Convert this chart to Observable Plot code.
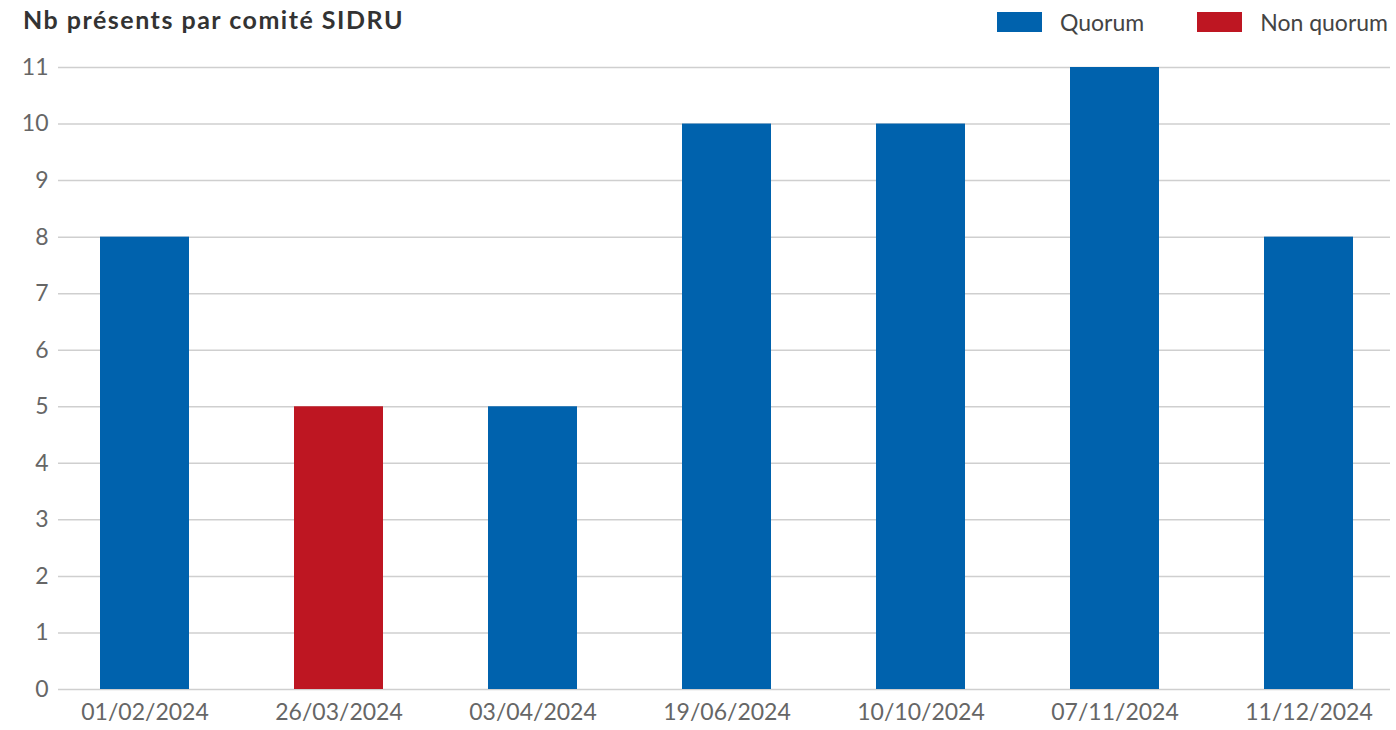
<!DOCTYPE html>
<html>
<head>
<meta charset="utf-8">
<script src="https://cdn.jsdelivr.net/npm/d3@7"></script>
<script src="https://cdn.jsdelivr.net/npm/@observablehq/plot@0.6"></script>
<style>
  html, body { margin: 0; padding: 0; background: #fff; }
  #wrap { position: relative; width: 1396px; height: 730px; font-family: Lato, "Open Sans", sans-serif; }
  #header { position: relative; height: 45px; }
  #title { position: absolute; left: 23px; top: 4px; font-size: 25px; letter-spacing: 1.5px; font-weight: 700; color: #333; white-space: nowrap; }
  #legend { position: absolute; right: 8px; top: 8px; display: flex; align-items: center; font-size: 23px; color: #444; }
  .item { display: flex; align-items: center; margin-left: 53px; }
  .sw { width: 45px; height: 20px; margin-right: 18px; }
</style>
</head>
<body>
<div id="wrap">
  <div id="header">
    <div id="title">Nb présents par comité SIDRU</div>
    <div id="legend"></div>
  </div>
  <div id="chart"></div>
</div>
<script>
const dates = ["01/02/2024", "26/03/2024", "03/04/2024", "19/06/2024", "10/10/2024", "07/11/2024", "11/12/2024"];
const presents = [8, 5, 5, 10, 10, 11, 8];
const status = ["Quorum", "Non quorum", "Quorum", "Quorum", "Quorum", "Quorum", "Quorum"];
const legendLabels = ["Quorum", "Non quorum"];
const legendColors = ["#0062ad", "#be1622"];
const yTicks = [0, 1, 2, 3, 4, 5, 6, 7, 8, 9, 10, 11];

const data = dates.map((d, i) => ({date: d, value: presents[i], status: status[i]}));

const legend = document.getElementById("legend");
legendLabels.forEach((l, i) => {
  const it = document.createElement("div");
  it.className = "item";
  it.innerHTML = `<span class="sw" style="background:${legendColors[i]}"></span><span>${l}</span>`;
  legend.appendChild(it);
});

const chart = Plot.plot({
  width: 1396,
  height: 685,
  marginTop: 22,
  marginBottom: 41,
  marginLeft: 58,
  marginRight: 6,
  style: {fontFamily: "Lato, 'Open Sans', sans-serif", fontSize: "23px", color: "#666", background: "#fff"},
  x: {domain: dates, range: [47.5, 1405.5], paddingInner: 0.541, paddingOuter: 0.2705, label: null},
  y: {domain: [0, 11], ticks: yTicks, label: null},
  color: {domain: legendLabels, range: legendColors},
  marks: [
    Plot.ruleY(yTicks, {stroke: "#cfcfcf", strokeWidth: 1.5}),
    Plot.barY(data, {x: "date", y: "value", fill: "status"}),
    Plot.axisY({ticks: yTicks, tickSize: 0, tickPadding: 10, fill: "#666", fontSize: 23}),
    Plot.axisX({tickSize: 0, tickPadding: 14, fill: "#666", fontSize: 23})
  ]
});
document.getElementById("chart").appendChild(chart);
</script>
</body>
</html>
